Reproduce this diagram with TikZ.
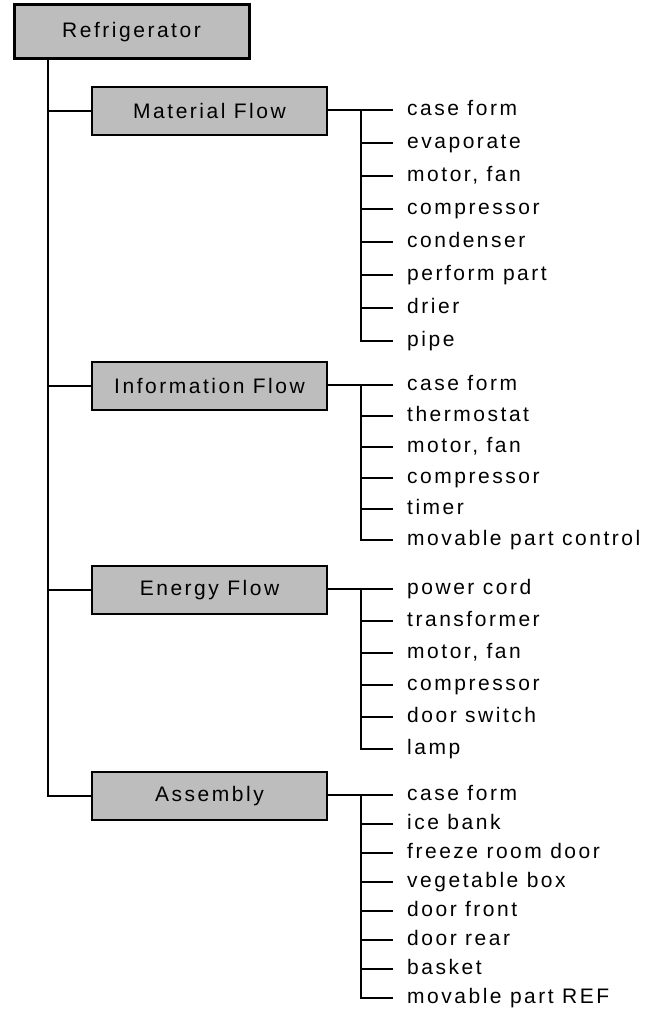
\documentclass[tikz,border=0pt]{standalone}
\usepackage{fontspec}
\newfontfamily\labfont{Liberation Sans}[LetterSpace=12]
\begin{document}
\begin{tikzpicture}[x=1pt,y=-1pt,
  catbox/.style={draw=black, line width=1.8pt, fill=black!26, minimum width=235pt, minimum height=48pt, inner sep=0pt, font=\labfont\fontsize{21}{25}\selectfont},
  rootbox/.style={catbox, line width=3pt, minimum height=54pt},
  leaf/.style={anchor=west, inner sep=0pt, text height=15pt, text depth=4pt, font=\labfont\fontsize{21}{25}\selectfont},
  conn/.style={line width=1.4pt, line cap=rect}]
\useasboundingbox (0,0) rectangle (657,1033);

% boxes
\node[rootbox] (root) at (131.5,32) {Refrigerator};
\node[catbox] (mat) at (209.5,111) {Material Flow};
\node[catbox] (inf) at (209.5,386) {Information Flow};
\node[catbox] (ene) at (209.5,590) {Energy Flow};
\node[catbox] (asm) at (209.5,796) {Assembly};

% leaves
\foreach \t [count=\i] in {case form, evaporate, {motor, fan}, compressor, condenser, perform part, drier, pipe}
  \node[leaf] (m\i) at (407,110+33*\i-33) {\t};
\foreach \t [count=\i] in {case form, thermostat, {motor, fan}, compressor, timer, movable part control}
  \node[leaf] (n\i) at (407,385+31*\i-31) {\t};
\foreach \t [count=\i] in {power cord, transformer, {motor, fan}, compressor, door switch, lamp}
  \node[leaf] (e\i) at (407,589+32*\i-32) {\t};
\foreach \t [count=\i] in {case form, ice bank, freeze room door, vegetable box, door front, door rear, basket, movable part REF}
  \node[leaf] (a\i) at (407,795+29*\i-29) {\t};

% trunk
\coordinate (t0) at (48,0);
\draw[conn] (t0 |- root.south) |- (asm.west);
\draw[conn] (t0 |- mat.west) -- (mat.west);
\draw[conn] (t0 |- inf.west) -- (inf.west);
\draw[conn] (t0 |- ene.west) -- (ene.west);

% branches
\coordinate (bx) at (361,0);
\draw[conn] (mat.east |- m1.west) -- ([xshift=-15pt]m1.west);
\draw[conn] (bx |- m1.west) |- ([xshift=-15pt]m8.west);
\foreach \i in {2,...,7} \draw[conn] (bx |- m\i.west) -- ([xshift=-15pt]m\i.west);

\draw[conn] (inf.east |- n1.west) -- ([xshift=-15pt]n1.west);
\draw[conn] (bx |- n1.west) |- ([xshift=-15pt]n6.west);
\foreach \i in {2,...,5} \draw[conn] (bx |- n\i.west) -- ([xshift=-15pt]n\i.west);

\draw[conn] (ene.east |- e1.west) -- ([xshift=-15pt]e1.west);
\draw[conn] (bx |- e1.west) |- ([xshift=-15pt]e6.west);
\foreach \i in {2,...,5} \draw[conn] (bx |- e\i.west) -- ([xshift=-15pt]e\i.west);

\draw[conn] (asm.east |- a1.west) -- ([xshift=-15pt]a1.west);
\draw[conn] (bx |- a1.west) |- ([xshift=-15pt]a8.west);
\foreach \i in {2,...,7} \draw[conn] (bx |- a\i.west) -- ([xshift=-15pt]a\i.west);
\end{tikzpicture}
\end{document}
